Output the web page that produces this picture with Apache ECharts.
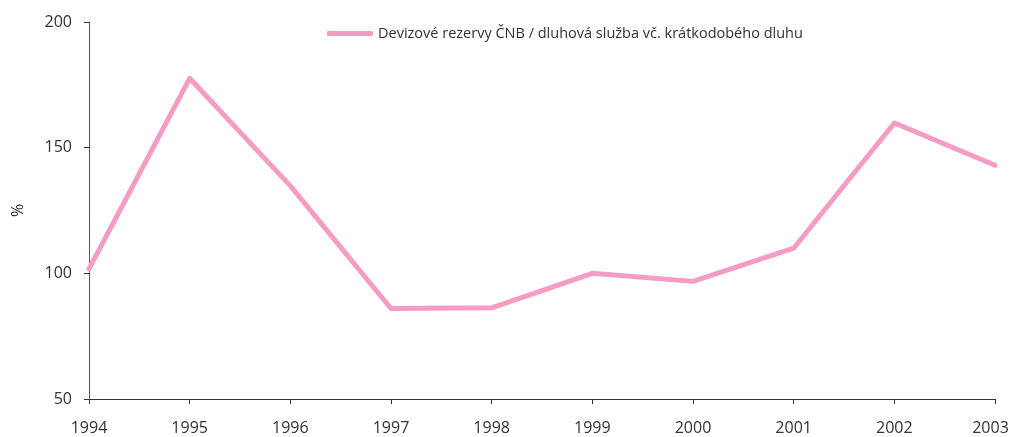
<!DOCTYPE html>
<html>
<head>
<meta charset="utf-8">
<script src="https://cdn.jsdelivr.net/npm/echarts@6/dist/echarts.min.js"></script>
<style>
  html, body { margin: 0; padding: 0; background: #fff; }
  #chart { width: 1009px; height: 437px; }
</style>
</head>
<body>
<div id="chart"></div>
<script>
var years = ['1994', '1995', '1996', '1997', '1998', '1999', '2000', '2001', '2002', '2003'];
var reserveRatio = [101.8, 177.6, 134.8, 86.0, 86.3, 100.0, 96.8, 110.0, 159.8, 143.0];
var seriesName = 'Devizové rezervy ČNB / dluhová služba vč. krátkodobého dluhu';

var font = '"Open Sans", "Noto Sans", sans-serif';
var axisColor = '#555';

var chart = echarts.init(document.getElementById('chart'));
chart.setOption({
    animation: false,
    textStyle: { fontFamily: font },
    grid: { left: 89, right: 14, top: 22, bottom: 38, outerBoundsMode: 'none' },
    legend: {
        data: [seriesName],
        top: 21,
        left: 322,
        itemWidth: 46,
        itemHeight: 5,
        itemGap: 9,
        textStyle: { fontFamily: font, fontSize: 14.5, color: '#333' },
        icon: 'roundRect'
    },
    xAxis: {
        type: 'category',
        data: years,
        boundaryGap: false,
        axisLine: { lineStyle: { color: '#333', width: 1 } },
        axisTick: { alignWithLabel: true, interval: 0, length: 5, lineStyle: { color: '#333' } },
        axisLabel: {
            interval: 0,
            hideOverlap: false,
            fontFamily: font, fontSize: 16, color: '#333', margin: 21,
            formatter: function (v, i) {
                // last label sits a bit left of its tick so it stays inside the canvas
                return i === years.length - 1 ? '{last|' + v + '}' : v;
            },
            rich: {
                last: { fontFamily: font, fontSize: 16, color: '#333', padding: [0, 9, 0, 0] }
            }
        },
        splitLine: { show: false }
    },
    yAxis: {
        type: 'value',
        min: 50,
        max: 200,
        interval: 50,
        name: '%',
        nameLocation: 'middle',
        nameGap: 63,
        nameRotate: 90,
        nameTextStyle: { fontFamily: font, fontSize: 16, color: '#333' },
        axisLine: { show: true, lineStyle: { color: axisColor, width: 1 } },
        axisTick: { show: true, length: 5, lineStyle: { color: '#333' } },
        axisLabel: { fontFamily: font, fontSize: 16, color: '#333', margin: 17 },
        splitLine: { show: false }
    },
    series: [{
        name: seriesName,
        type: 'line',
        data: reserveRatio,
        symbol: 'none',
        lineStyle: { color: '#f59cc4', width: 5, cap: 'round', join: 'round' },
        itemStyle: { color: '#f59cc4' }
    }]
});
</script>
</body>
</html>
